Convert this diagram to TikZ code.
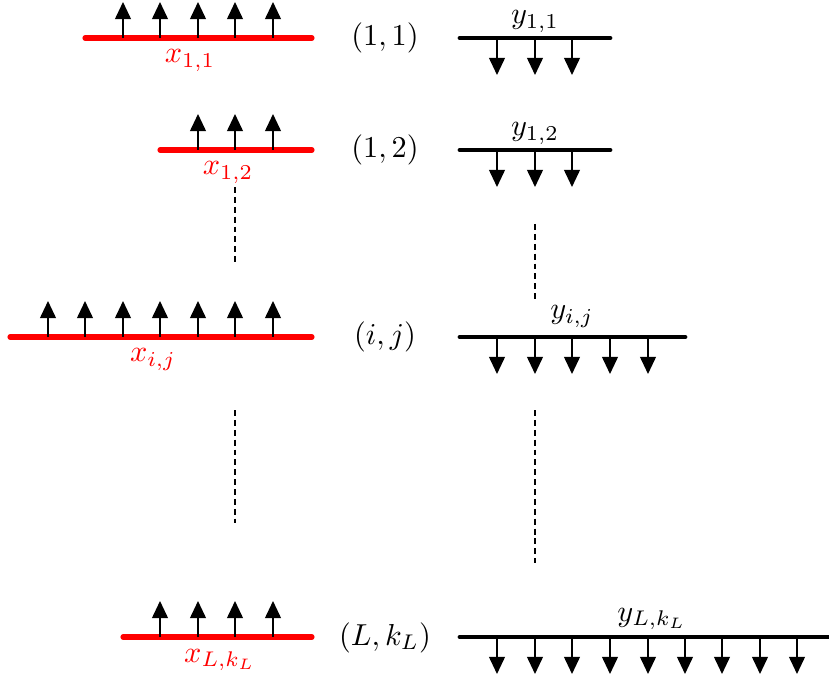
\documentclass[tikz,border=0pt]{standalone}
\usetikzlibrary{arrows.meta}
\begin{document}
\begin{tikzpicture}[x=0.7588pt,y=-0.7588pt,
  redbar/.style={draw=red, line width=3.9pt, line cap=round},
  blackbar/.style={draw=black, line width=3.7pt, line cap=round},
  arr/.style={line width=1.3pt, -{Triangle[width=12pt,length=13pt]}},
  dashline/.style={line width=1.8pt, dash pattern=on 4.5pt off 3pt},
  lab/.style={scale=2.3, inner sep=0pt},
  redlab/.style={lab, text=red, anchor=base},
  blklab/.style={lab, text=black, anchor=base}]
\useasboundingbox (0,0) rectangle (829,679);

% ---- row (1,1)
\coordinate (r1a) at (85,38);  \coordinate (r1b) at (312,38);
\coordinate (b1a) at (460,38); \coordinate (b1b) at (610,38);
\draw[redbar] (r1a) -- (r1b);
\draw[blackbar] (b1a) -- (b1b);
\foreach \x in {123,160,198,235,273} \draw[arr] (\x,38) -- (\x,2);
\foreach \x in {497,535,572} \draw[arr] (\x,38) -- (\x,75);
\node[redlab] (x11) at (190,63) {$x_{1,1}$};
\node[blklab] (y11) at (535,24) {$y_{1,1}$};
\node[blklab] (p11) at (385,46) {$(1,1)$};

% ---- row (1,2)
\coordinate (r2a) at (160,150); \coordinate (r2b) at (312,150);
\coordinate (b2a) at (460,150); \coordinate (b2b) at (610,150);
\draw[redbar] (r2a) -- (r2b);
\draw[blackbar] (b2a) -- (b2b);
\foreach \x in {198,235,273} \draw[arr] (\x,150) -- (\x,114);
\foreach \x in {497,535,572} \draw[arr] (\x,150) -- (\x,187);
\node[redlab] (x12) at (228,175) {$x_{1,2}$};
\node[blklab] (y12) at (535,136) {$y_{1,2}$};
\node[blklab] (p12) at (385,158) {$(1,2)$};

% ---- row (i,j)
\coordinate (r3a) at (10,337); \coordinate (r3b) at (312,337);
\coordinate (b3a) at (460,337); \coordinate (b3b) at (685,337);
\draw[redbar] (r3a) -- (r3b);
\draw[blackbar] (b3a) -- (b3b);
\foreach \x in {48,85,123,160,198,235,273} \draw[arr] (\x,337) -- (\x,301);
\foreach \x in {497,535,572,610,648} \draw[arr] (\x,337) -- (\x,374);
\node[redlab] (xij) at (153,362) {$x_{i,j}$};
\node[blklab] (yij) at (572,319) {$y_{i,j}$};
\node[blklab] (pij) at (385,345) {$(i,j)$};

% ---- row (L,k_L)
\coordinate (r4a) at (123,637); \coordinate (r4b) at (312,637);
\coordinate (b4a) at (460,637); \coordinate (b4b) at (845,637);
\draw[redbar] (r4a) -- (r4b);
\draw[blackbar] (b4a) -- (b4b);
\foreach \x in {160,198,235,273} \draw[arr] (\x,637) -- (\x,601);
\foreach \x in {497,535,572,610,648,685,722,760,797} \draw[arr] (\x,637) -- (\x,674);
\node[redlab] (xL) at (220,662) {$x_{L,k_L}$};
\node[blklab] (yL) at (652,621) {$y_{L,k_L}$};
\node[blklab] (pL) at (385,645) {$(L,k_L)$};

% ---- dashed continuation lines
\coordinate (d1a) at (235,187); \coordinate (d1b) at (235,263);
\coordinate (d2a) at (235,410); \coordinate (d2b) at (235,523);
\coordinate (d3a) at (535,224); \coordinate (d3b) at (535,300);
\coordinate (d4a) at (535,410); \coordinate (d4b) at (535,563);
\draw[dashline] (d1a) -- (d1b);
\draw[dashline] (d2a) -- (d2b);
\draw[dashline] (d3a) -- (d3b);
\draw[dashline] (d4a) -- (d4b);
\end{tikzpicture}
\end{document}
